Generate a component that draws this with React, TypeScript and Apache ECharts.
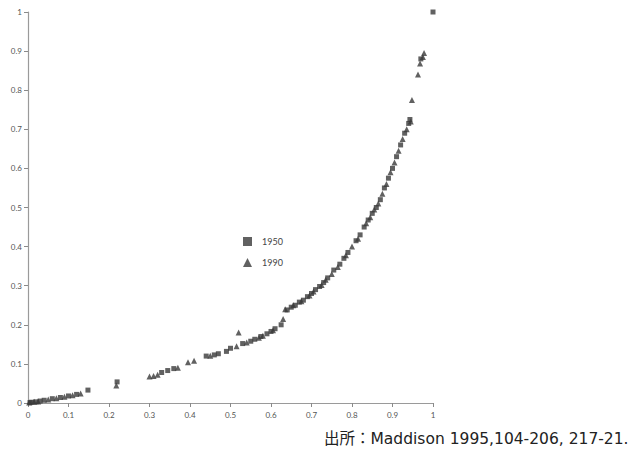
import React, { useEffect, useRef } from "react";
import * as echarts from "echarts";

const axisTicks = [0, 0.1, 0.2, 0.3, 0.4, 0.5, 0.6, 0.7, 0.8, 0.9, 1];
const seriesNames = ["1950", "1990"];
const sourceText = "出所：Maddison 1995,104-206, 217-21.";

const data1950: [number, number][] = [
  [0.005, 0.001], [0.01, 0.002], [0.02, 0.003], [0.03, 0.005], [0.04, 0.007],
  [0.06, 0.011], [0.08, 0.014], [0.1, 0.018], [0.12, 0.022], [0.148, 0.033],
  [0.22, 0.054], [0.33, 0.078], [0.345, 0.083], [0.36, 0.088], [0.44, 0.12],
  [0.46, 0.123], [0.47, 0.126], [0.49, 0.132], [0.5, 0.14], [0.53, 0.152],
  [0.55, 0.158], [0.56, 0.163], [0.575, 0.17], [0.59, 0.177], [0.6, 0.183],
  [0.61, 0.19], [0.625, 0.2], [0.64, 0.238], [0.65, 0.245], [0.66, 0.25],
  [0.67, 0.258], [0.68, 0.263], [0.69, 0.272], [0.7, 0.28], [0.71, 0.29],
  [0.72, 0.298], [0.73, 0.308], [0.74, 0.32], [0.755, 0.34], [0.77, 0.355],
  [0.78, 0.37], [0.79, 0.385], [0.81, 0.415], [0.82, 0.43], [0.83, 0.45],
  [0.84, 0.468], [0.85, 0.485], [0.86, 0.5], [0.87, 0.52], [0.88, 0.55],
  [0.89, 0.575], [0.9, 0.6], [0.91, 0.63], [0.92, 0.66], [0.93, 0.69],
  [0.94, 0.715], [0.943, 0.725], [0.97, 0.88], [1, 1],
];

const data1990: [number, number][] = [
  [0.003, 0.001], [0.015, 0.003], [0.025, 0.004], [0.05, 0.009], [0.07, 0.012],
  [0.09, 0.016], [0.11, 0.02], [0.13, 0.024], [0.218, 0.045], [0.3, 0.068],
  [0.31, 0.069], [0.32, 0.072], [0.37, 0.09], [0.395, 0.104], [0.41, 0.108],
  [0.45, 0.121], [0.52, 0.18], [0.515, 0.145], [0.54, 0.155], [0.57, 0.167],
  [0.58, 0.172], [0.605, 0.186], [0.63, 0.215], [0.635, 0.24], [0.655, 0.25],
  [0.675, 0.26], [0.695, 0.275], [0.705, 0.285], [0.725, 0.302], [0.735, 0.315],
  [0.75, 0.33], [0.765, 0.348], [0.785, 0.378], [0.8, 0.4], [0.815, 0.42],
  [0.835, 0.46], [0.845, 0.475], [0.855, 0.495], [0.865, 0.51], [0.875, 0.535],
  [0.885, 0.56], [0.895, 0.59], [0.905, 0.615], [0.915, 0.645], [0.925, 0.675],
  [0.935, 0.7], [0.945, 0.72], [0.948, 0.775], [0.963, 0.84], [0.968, 0.868],
  [0.975, 0.885], [0.978, 0.895],
];

const fmt = (v: number) => {
  const r = Math.round(v * 10) / 10;
  return r === 0 ? "0" : r === 1 ? "1" : String(r);
};

export default function App() {
  const ref = useRef<HTMLDivElement>(null);
  useEffect(() => {
    if (!ref.current) return;
    const chart = echarts.init(ref.current, undefined, { renderer: "svg" });
    const axisCommon = {
      type: "value" as const,
      min: axisTicks[0],
      max: axisTicks[axisTicks.length - 1],
      interval: 0.1,
      splitLine: { show: false },
      axisLine: { show: true, lineStyle: { color: "#9a9a9a", width: 1.2 } },
      axisTick: { show: true, length: 4, lineStyle: { color: "#8a8a8a" } },
      axisLabel: {
        color: "#555",
        fontSize: 8,
        fontFamily: "Lato",
        formatter: fmt,
      },
    };
    chart.setOption({
      animation: false,
      backgroundColor: "#ffffff",
      grid: { left: 28, right: 201, top: 12, bottom: 48, containLabel: false },
      xAxis: { ...axisCommon, axisLabel: { ...axisCommon.axisLabel, margin: 8 } },
      yAxis: { ...axisCommon, axisLabel: { ...axisCommon.axisLabel, margin: 6 } },
      legend: {
        orient: "vertical",
        left: 238,
        top: 232,
        itemWidth: 9,
        itemHeight: 9,
        itemGap: 12,
        textStyle: { color: "#444", fontSize: 9, fontFamily: "Lato", padding: [0, 0, 0, 5] },
        data: [
          { name: seriesNames[0], icon: "rect" },
          { name: seriesNames[1], icon: "triangle" },
        ],
      },
      series: [
        {
          name: seriesNames[0],
          type: "scatter",
          symbol: "rect",
          symbolSize: 5,
          itemStyle: { color: "#3a3a3a" },
          data: data1950,
        },
        {
          name: seriesNames[1],
          type: "scatter",
          symbol: "triangle",
          symbolSize: 6,
          itemStyle: { color: "#3a3a3a" },
          data: data1990,
        },
      ],
      graphic: [
        {
          type: "text",
          left: 324,
          top: 431,
          style: {
            text: sourceText,
            fontSize: 15.5,
            fill: "#222",
            fontFamily: "'DejaVu Sans', 'Noto Sans CJK JP'",
          },
        },
      ],
    });
    return () => chart.dispose();
  }, []);
  return (
    <div
      ref={ref}
      style={{ position: "absolute", left: 0, top: 0, width: 634, height: 451 }}
    />
  );
}
